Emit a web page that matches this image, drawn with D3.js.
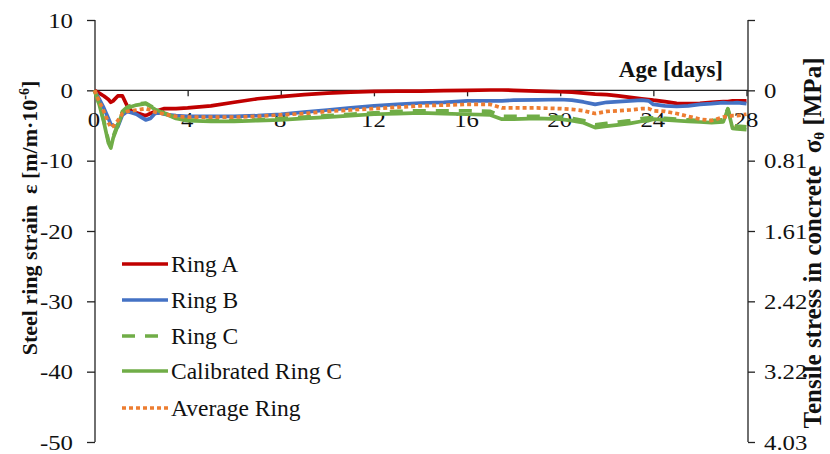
<!DOCTYPE html>
<html>
<head>
<meta charset="utf-8">
<script src="https://cdn.jsdelivr.net/npm/d3@7"></script>
<style>
  html, body { margin: 0; padding: 0; background: #fff; }
  svg { display: block; }
</style>
</head>
<body>
<svg id="chart" width="830" height="454"></svg>
<script>
// Age of the specimens [days]
const days = [0, 0.2, 0.4, 0.6, 0.7, 0.8, 1.0, 1.2, 1.4, 1.6, 1.8, 2.0, 2.2, 2.4, 2.6, 2.8, 3.0, 3.5,
  4, 5, 6, 7, 8, 9, 10, 11, 12, 13, 14, 15, 16, 17, 17.5, 18, 19, 20, 20.5, 21, 21.5, 22, 22.5,
  23, 23.5, 23.8, 24, 24.5, 25, 25.5, 26, 26.5, 27, 27.2, 27.4, 27.6, 28];

// Steel ring strain [m/m·10^-6]
const ringA = [0, -0.4, -0.8, -1.3, -1.7, -1.5, -0.8, -0.8, -2.2, -3.0, -3.2, -3.4, -3.6, -3.3, -3.0, -2.8, -2.6, -2.6,
  -2.5, -2.2, -1.7, -1.2, -0.9, -0.6, -0.4, -0.25, -0.15, -0.1, -0.1, -0.05, 0, 0.05, 0.05, 0, -0.1, -0.2, -0.25,
  -0.4, -0.55, -0.6, -0.8, -1.0, -1.2, -1.3, -1.4, -1.6, -1.85, -1.9, -1.85, -1.7, -1.6, -1.6, -1.5, -1.5, -1.5];
const ringB = [0, -1.2, -2.5, -4.0, -4.8, -5.0, -5.2, -3.5, -3.0, -3.2, -3.4, -3.8, -4.2, -4.0, -3.3, -3.2, -3.4, -3.6,
  -3.7, -3.7, -3.7, -3.6, -3.4, -3.1, -2.8, -2.5, -2.2, -2.0, -1.8, -1.7, -1.5, -1.5, -1.5, -1.4, -1.35, -1.3, -1.4,
  -1.65, -2.0, -1.7, -1.6, -1.5, -1.4, -1.5, -2.0, -2.2, -2.3, -2.2, -2.0, -1.9, -1.75, -1.8, -1.8, -1.75, -1.9];
const ringC = [0, -1.9, -4.3, -7.2, -7.9, -6.6, -4.8, -3.0, -2.4, -2.1, -2.0, -1.9, -1.8, -2.2, -2.6, -2.9, -3.2, -3.9,
  -4.2, -4.3, -4.3, -4.2, -4.0, -3.8, -3.6, -3.4, -3.2, -3.0, -2.9, -2.9, -2.9, -3.0, -3.7, -3.7, -3.7, -3.8, -4.0,
  -4.3, -4.9, -4.7, -4.5, -4.3, -4.0, -3.9, -3.9, -4.0, -4.1, -4.2, -4.3, -4.3, -4.2, -2.6, -5.0, -5.1, -5.2];
const ringCCalibrated = [0, -2.0, -4.5, -7.5, -8.2, -6.8, -5.0, -3.2, -2.6, -2.3, -2.1, -2.0, -1.9, -2.3, -2.7, -3.0, -3.3, -4.0,
  -4.3, -4.4, -4.4, -4.3, -4.2, -4.0, -3.8, -3.6, -3.4, -3.3, -3.2, -3.3, -3.4, -3.5, -4.1, -4.1, -4.0, -4.1, -4.3,
  -4.6, -5.3, -5.1, -4.9, -4.7, -4.4, -4.3, -4.1, -4.2, -4.3, -4.4, -4.5, -4.6, -4.5, -2.7, -5.4, -5.5, -5.6];
const ringAverage = [0, -1.5, -3.0, -4.6, -5.3, -5.1, -4.3, -3.3, -3.0, -2.9, -2.8, -2.7, -2.6, -2.8, -3.1, -3.2, -3.4, -3.7,
  -3.8, -3.8, -3.8, -3.7, -3.5, -3.3, -3.0, -2.8, -2.6, -2.4, -2.2, -2.1, -2.0, -2.0, -2.5, -2.5, -2.5, -2.6, -2.7,
  -2.9, -3.3, -3.0, -2.9, -2.8, -2.6, -2.6, -2.9, -3.0, -3.3, -3.7, -4.1, -4.3, -3.8, -3.7, -3.6, -3.6, -3.4];

const seriesNames = ["Ring A", "Ring B", "Ring C", "Calibrated Ring C", "Average Ring"];
const seriesColors = ["#c00000", "#4472c4", "#70ad47", "#70ad47", "#ed7d31"];
const seriesDashes = [null, null, "13,10", null, "4,3"];
const seriesValues = [ringA, ringB, ringC, ringCCalibrated, ringAverage];

const dayTicks = [0, 4, 8, 12, 16, 20, 24, 28];
const strainTicks = [10, 0, -10, -20, -30, -40, -50];
// Tensile stress in concrete per unit of ring strain [MPa per 10^-6 m/m]
const stressPerStrain = 4.03 / 50;
const stressTicks = [-10, 0, 10, 20, 30, 40, 50].map(s => s * stressPerStrain);

const serif = "'Liberation Serif', 'Times New Roman', Tinos, serif";
const svg = d3.select("#chart").style("font-family", serif);
const x = d3.scaleLinear().domain([0, 28]).range([94.5, 746.5]);
const y = d3.scaleLinear().domain([-50, 10]).range([442, 20]);
const yStress = d3.scaleLinear().domain([50 * stressPerStrain, -10 * stressPerStrain]).range([442, 20]);

const axisColor = "#222";
const tickFont = 21;
const stretch = 1.18;

// Left strain axis
const gL = svg.append("g").attr("transform", "translate(95,0)")
  .call(d3.axisLeft(y).tickValues(strainTicks).tickSize(8).tickPadding(0).tickFormat(d3.format("d")));
gL.select(".domain").attr("stroke", axisColor).attr("stroke-width", 1.3).attr("d", "M0,20V442");
gL.selectAll(".tick line").attr("stroke", axisColor).attr("stroke-width", 1.3);
gL.selectAll(".tick text")
  .attr("x", 0).attr("dy", null).attr("y", 0)
  .attr("font-size", tickFont)
  .attr("transform", `translate(-22,7.3) scale(${stretch},1)`)
  .text(d => d < 0 ? "-" + Math.abs(d) : d);

// Right stress axis
const gR = svg.append("g").attr("transform", "translate(748,0)")
  .call(d3.axisRight(yStress).tickValues(stressTicks).tickSize(7).tickPadding(0)
    .tickFormat(v => v < 0 ? "" : (Math.abs(v) < 1e-9 ? "0" : d3.format(".2f")(v))));
gR.select(".domain").attr("stroke", axisColor).attr("stroke-width", 1.3).attr("d", "M0,20V442");
gR.selectAll(".tick line").attr("stroke", axisColor).attr("stroke-width", 1.3);
gR.selectAll(".tick text")
  .attr("x", 0).attr("dy", null).attr("y", 0)
  .attr("font-size", tickFont)
  .attr("transform", `translate(16,7.3) scale(${stretch},1)`);

// Age axis along the zero-strain line
const gX = svg.append("g").attr("transform", `translate(0,${y(0)})`)
  .call(d3.axisBottom(x).tickValues(dayTicks).tickSize(6).tickPadding(0).tickFormat(d3.format("d")));
gX.select(".domain").attr("stroke", axisColor).attr("stroke-width", 1.3).attr("d", "M95,0H748");
gX.selectAll(".tick line").attr("stroke", axisColor).attr("stroke-width", 1.3);
gX.selectAll(".tick text")
  .attr("y", 0).attr("dy", null)
  .attr("font-size", tickFont)
  .attr("transform", `translate(-1,${127 - y(0)}) scale(${stretch},1)`);

// Strain histories
const line = d3.line().x((d, i) => x(days[i])).y(d => y(d));
seriesValues.forEach((vals, k) => {
  svg.append("path")
    .datum(vals)
    .attr("fill", "none")
    .attr("stroke", seriesColors[k])
    .attr("stroke-width", 3.7)
    .attr("stroke-linejoin", "round")
    .attr("stroke-dasharray", seriesDashes[k])
    .attr("d", line);
});

// Axis titles
svg.append("text")
  .attr("x", 723).attr("y", 77)
  .attr("text-anchor", "end")
  .attr("font-size", 23).attr("font-weight", "bold")
  .text("Age [days]");

const tL = svg.append("text")
  .attr("transform", "translate(37,218) rotate(-90)")
  .attr("text-anchor", "middle")
  .attr("font-size", 22).attr("font-weight", "bold");
tL.append("tspan").text("Steel ring strain \u00a0\u03b5 [m/m\u00b710");
tL.append("tspan").attr("dy", -8).attr("font-size", 14).text("-6");
tL.append("tspan").attr("dy", 8).text("]");

const tR = svg.append("text")
  .attr("transform", "translate(821,243) rotate(-90)")
  .attr("text-anchor", "middle")
  .attr("font-size", 25).attr("font-weight", "bold");
tR.append("tspan").text("Tensile stress in concrete \u00a0\u03c3");
tR.append("tspan").attr("dy", 3).attr("font-size", 15).text("\u03b8");
tR.append("tspan").attr("dy", -3).text(" [MPa]");

// Legend
const legendRows = [264, 300, 336, 371, 408];
const legend = svg.append("g");
seriesNames.forEach((name, k) => {
  const ly = legendRows[k];
  legend.append("line")
    .attr("x1", 122).attr("x2", 168).attr("y1", ly).attr("y2", ly)
    .attr("stroke", seriesColors[k]).attr("stroke-width", 3.7)
    .attr("stroke-dasharray", seriesDashes[k]);
  legend.append("text")
    .attr("x", 171).attr("y", ly + 8)
    .attr("font-size", 23.5)
    .text(name);
});

// One typeface and ink colour for every label, including the axis-generated ones
svg.selectAll("text").style("font-family", serif).style("fill", "#111");
svg.selectAll("g").attr("font-family", null);
</script>
</body>
</html>
